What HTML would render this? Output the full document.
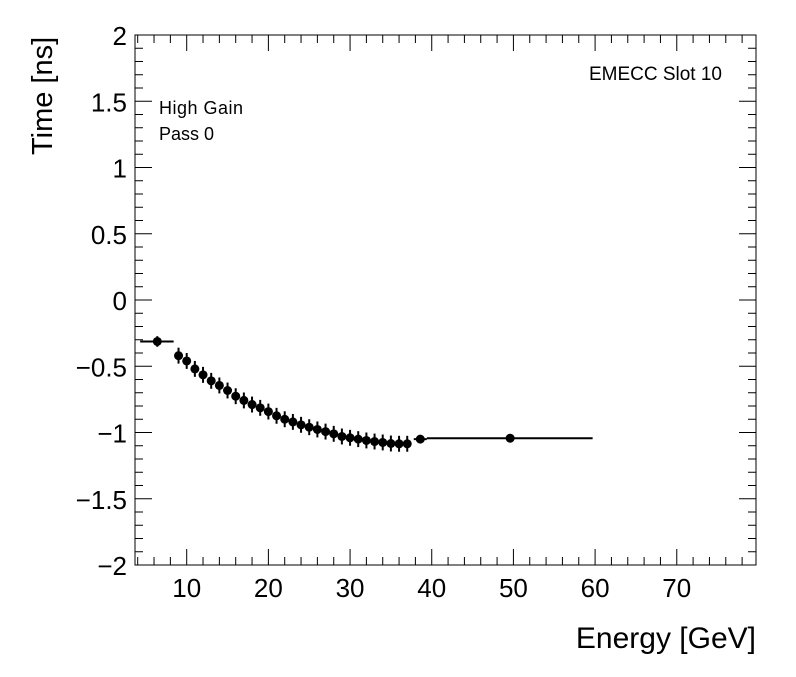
<!DOCTYPE html>
<html><head><meta charset="utf-8"><style>
html,body{margin:0;padding:0;background:#fff;}
svg text{font-family:"Liberation Sans",Arial,sans-serif;fill:#000;}
</style></head><body>
<svg id="chart" width="796" height="672" viewBox="0 0 796 672" xmlns="http://www.w3.org/2000/svg">
<rect x="0" y="0" width="796" height="672" fill="#fff"/>
<g id="axes"></g>
<g id="marks"></g>
<text x="0" y="0" transform="translate(52,155) rotate(-90)" font-size="29">Time [ns]</text>
<text x="756" y="648" font-size="30" text-anchor="end">Energy [GeV]</text>
<text x="159" y="114" font-size="18" textLength="84">High Gain</text>
<text x="159" y="140" font-size="18">Pass 0</text>
<text x="722" y="80" font-size="19" text-anchor="end">EMECC Slot 10</text>
</svg>
<script>
const energies = [6.4,9,10,11,12,13,14,15,16,17,18,19,20,21,22,23,24,25,26,27,28,29,30,31,32,33,34,35,36,37,38.6,49.6];
const xLow = [4.3,8.5,9.5,10.5,11.5,12.5,13.5,14.5,15.5,16.5,17.5,18.5,19.5,20.5,21.5,22.5,23.5,24.5,25.5,26.5,27.5,28.5,29.5,30.5,31.5,32.5,33.5,34.5,35.5,36.5,37.8,39.4];
const xHigh = [8.4,9.5,10.5,11.5,12.5,13.5,14.5,15.5,16.5,17.5,18.5,19.5,20.5,21.5,22.5,23.5,24.5,25.5,26.5,27.5,28.5,29.5,30.5,31.5,32.5,33.5,34.5,35.5,36.5,37.5,39.4,59.7];
const times = [-0.313,-0.42,-0.46,-0.52,-0.565,-0.61,-0.645,-0.683,-0.726,-0.758,-0.789,-0.814,-0.842,-0.874,-0.9,-0.92,-0.942,-0.96,-0.977,-0.993,-1.01,-1.03,-1.04,-1.05,-1.06,-1.068,-1.075,-1.083,-1.085,-1.085,-1.05,-1.043];
const timeErr = [0.04,0.06,0.06,0.06,0.06,0.06,0.06,0.06,0.06,0.06,0.06,0.06,0.06,0.06,0.06,0.06,0.06,0.06,0.06,0.06,0.06,0.06,0.06,0.06,0.06,0.06,0.06,0.06,0.06,0.06,0.03,0.01];
const xTicks = [10,20,30,40,50,60,70];
const yTicks = [-2,-1.5,-1,-0.5,0,0.5,1,1.5,2];
const yTickLabels = ["\u22122","\u22121.5","\u22121","\u22120.5","0","0.5","1","1.5","2"];

const NS="http://www.w3.org/2000/svg";
const L=135,R=756,T=35,B=565;
const XMIN=3.67,XMAX=79.7,YMIN=-2,YMAX=2;
const sx=v=>L+(v-XMIN)/(XMAX-XMIN)*(R-L);
const sy=v=>B-(v-YMIN)/(YMAX-YMIN)*(B-T);
function mk(tag,attrs,parent){const e=document.createElementNS(NS,tag);for(const k in attrs)e.setAttribute(k,attrs[k]);parent.appendChild(e);return e;}
const axes=document.getElementById('axes'),marks=document.getElementById('marks');
const frame=mk('rect',{x:L,y:T,width:R-L,height:B-T,fill:'none',stroke:'#000','stroke-width':1},axes);


for(let v=4;v<=XMAX;v+=2){
  const major=Math.abs(v%10)<1e-6;const len=major?16:8;const x=sx(v);
  const t1=mk('line',{x1:x,x2:x,y1:B,y2:B-len,stroke:'#000'},axes);
  
  
  const t2=mk('line',{x1:x,x2:x,y1:T,y2:T+len,stroke:'#000'},axes);
  
  
}
xTicks.forEach(v=>{
  const t=mk('text',{x:sx(v),y:B+32,'font-size':26,'text-anchor':'middle'},axes);t.textContent=v;
  
  
});
for(let i=0;i<=40;i++){
  const v=YMIN+i*0.1;const major=i%5===0;const len=major?17:8;const y=sy(v);
  const t1=mk('line',{x1:L,x2:L+len,y1:y,y2:y,stroke:'#000'},axes);
  
  
  const t2=mk('line',{x1:R,x2:R-len,y1:y,y2:y,stroke:'#000'},axes);
  
  
}
yTicks.forEach((v,i)=>{
  const t=mk('text',{x:L-8,y:sy(v)+10,'font-size':26,'text-anchor':'end'},axes);t.textContent=yTickLabels[i];
  
  
});
energies.forEach((e,i)=>{
  const g=mk('g',{},marks);
  
  
  const y=sy(times[i]);
  mk('line',{x1:sx(xLow[i]),x2:sx(xHigh[i]),y1:y,y2:y,stroke:'#000','stroke-width':2},g);
  mk('line',{x1:sx(e),x2:sx(e),y1:sy(times[i]+timeErr[i]),y2:sy(times[i]-timeErr[i]),stroke:'#000','stroke-width':2},g);
  mk('circle',{cx:sx(e),cy:y,r:4.5,fill:'#000'},g);
});
</script>
</body></html>
